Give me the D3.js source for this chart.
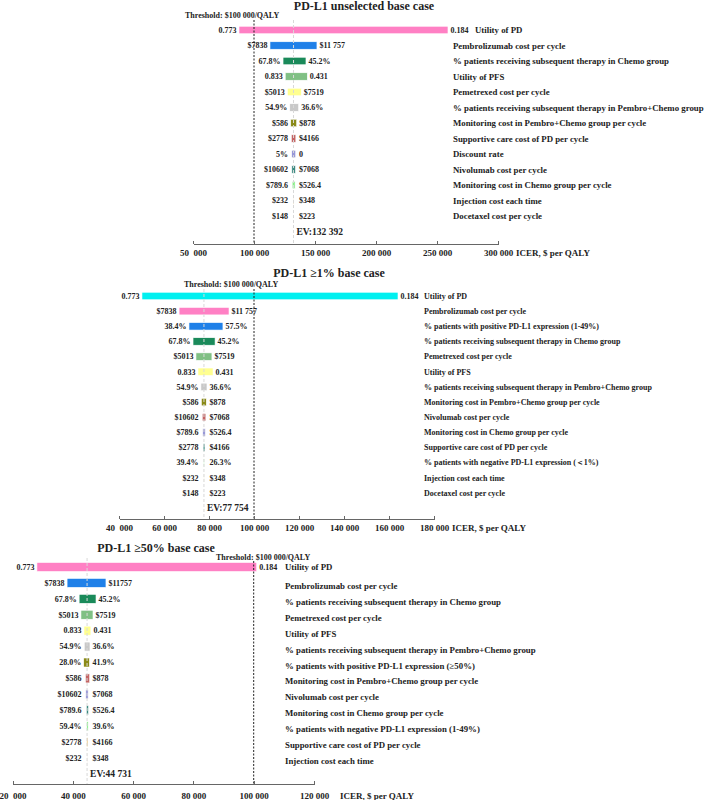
<!DOCTYPE html>
<meta charset="utf-8">
<style>
body { margin: 0; background: #fff; }
svg text { font-family: "Liberation Serif", "Times New Roman", serif; font-weight: bold; fill: #222; }
.axis path, .axis line { stroke: #666; stroke-width: 1; shape-rendering: crispEdges; }
.axis text { white-space: pre; }
</style>
<body>
<script src="https://d3js.org/d3.v7.min.js"></script>
<script>

// ---------- panel 1 : PD-L1 unselected ----------
var p1Title = "PD-L1 unselected base case";
var p1Params = ["Utility of PD", "Pembrolizumab cost per cycle",
  "% patients receiving subsequent therapy in Chemo group", "Utility of PFS",
  "Pemetrexed cost per cycle", "% patients receiving subsequent therapy in Pembro+Chemo group",
  "Monitoring cost in Pembro+Chemo group per cycle", "Supportive care cost of PD per cycle",
  "Discount rate", "Nivolumab cost per cycle", "Monitoring cost in Chemo group per cycle",
  "Injection cost each time", "Docetaxel cost per cycle"];
var p1Lo = [87700, 113100, 123800, 125600, 127300, 129300, 130100, 130600, 130900, 131000, 131300, 132100, 132200];
var p1Hi = [259000, 151600, 142600, 143700, 138800, 136600, 135000, 134300, 134200, 134000, 133700, 132700, 132600];
var p1LoText = ["0.773", "$7838", "67.8%", "0.833", "$5013", "54.9%", "$586", "$2778", "5%", "$10602", "$789.6", "$232", "$148"];
var p1HiText = ["0.184", "$11 757", "45.2%", "0.431", "$7519", "36.6%", "$878", "$4166", "0", "$7068", "$526.4", "$348", "$223"];
var p1Colors = ["#ff80c4", "#1f80e8", "#1a8a5a", "#80c084", "#ffff90", "#c8c8c8", "#8a8a18", "#c46464", "#9898d8", "#3a8a80", "#88f088", "#e8dcc0", "#eeeeee"];
var p1EV = 132392, p1EVText = "EV:132 392";
var p1Ticks = [50000, 100000, 150000, 200000, 250000, 300000];
var p1TickLabels = ["50  000", "100 000", "150 000", "200 000", "250 000", "300 000"];

// ---------- panel 2 : PD-L1 >=1% ----------
var p2Title = "PD-L1 \u22651% base case";
var p2Params = ["Utility of PD", "Pembrolizumab cost per cycle",
  "% patients with positive PD-L1 expression (1-49%)",
  "% patients receiving subsequent therapy in Chemo group", "Pemetrexed cost per cycle",
  "Utility of PFS", "% patients receiving subsequent therapy in Pembro+Chemo group",
  "Monitoring cost in Pembro+Chemo group per cycle", "Nivolumab cost per cycle",
  "Monitoring cost in Chemo group per cycle", "Supportive care cost of PD per cycle",
  "% patients with negative PD-L1 expression (\uFF1C1%)", "Injection cost each time",
  "Docetaxel cost per cycle"];
var p2Lo = [50200, 66700, 71100, 72900, 74200, 75100, 76400, 76600, 77000, 77200, 77400, 77600, 77700, 77700];
var p2Hi = [164000, 88900, 86200, 82700, 81300, 81800, 79100, 78800, 78600, 78400, 78200, 77950, 77850, 77800];
var p2LoText = ["0.773", "$7838", "38.4%", "67.8%", "$5013", "0.833", "54.9%", "$586", "$10602", "$789.6", "$2778", "39.4%", "$232", "$148"];
var p2HiText = ["0.184", "$11 757", "57.5%", "45.2%", "$7519", "0.431", "36.6%", "$878", "$7068", "$526.4", "$4166", "26.3%", "$348", "$223"];
var p2Colors = ["#00f0f0", "#ff80c4", "#1f80e8", "#1a8a5a", "#80c084", "#ffff90", "#c8c8c8", "#8a8a18", "#c46464", "#9898d8", "#3a8a80", "#b0f0b0", "#e8dcc0", "#eeeeee"];
var p2EV = 77754, p2EVText = "EV:77 754";
var p2Ticks = [40000, 60000, 80000, 100000, 120000, 140000, 160000, 180000];
var p2TickLabels = ["40  000", "60 000", "80 000", "100 000", "120 000", "140 000", "160 000", "180 000"];

// ---------- panel 3 : PD-L1 >=50% ----------
var p3Title = "PD-L1 \u226550% base case";
var p3Params = ["Utility of PD", "Pembrolizumab cost per cycle",
  "% patients receiving subsequent therapy in Chemo group", "Pemetrexed cost per cycle",
  "Utility of PFS", "% patients receiving subsequent therapy in Pembro+Chemo group",
  "% patients with positive PD-L1 expression (\u226550%)",
  "Monitoring cost in Pembro+Chemo group per cycle", "Nivolumab cost per cycle",
  "Monitoring cost in Chemo group per cycle", "% patients with negative PD-L1 expression (1-49%)",
  "Supportive care cost of PD per cycle", "Injection cost each time"];
var p3Lo = [28100, 38100, 42100, 42700, 43700, 43800, 43600, 44200, 44300, 44500, 44600, 44600, 44700];
var p3Hi = [101000, 51000, 47700, 46700, 46000, 45700, 45500, 45600, 45100, 45200, 45100, 45000, 44800];
var p3LoText = ["0.773", "$7838", "67.8%", "$5013", "0.833", "54.9%", "28.0%", "$586", "$10602", "$789.6", "59.4%", "$2778", "$232"];
var p3HiText = ["0.184", "$11757", "45.2%", "$7519", "0.431", "36.6%", "41.9%", "$878", "$7068", "$526.4", "39.6%", "$4166", "$348"];
var p3Colors = ["#ff80c4", "#1f80e8", "#1a8a5a", "#80c084", "#ffff90", "#c8c8c8", "#8a8a18", "#c46464", "#9898d8", "#3a8a80", "#88f088", "#e6b45a", "#e8dcc8"];
var p3EV = 44731, p3EVText = "EV:44 731";
var p3Ticks = [20000, 40000, 60000, 80000, 100000, 120000];
var p3TickLabels = ["20  000", "40 000", "60 000", "80 000", "100 000", "120 000"];

var threshold = 100000;

var svg = d3.select("body").append("svg")
    .attr("width", 709)
    .attr("height", 800);

// draws one tornado diagram
function drawPanel(p, lay) {
  var g = svg.append("g");
  var n = p.params.length;

  var x = d3.scaleLinear().domain(lay.domain).range(lay.xRange);
  var y = d3.scalePoint().domain(d3.range(n)).range([lay.rowTop, lay.rowBottom]);

  // title
  g.append("text")
      .attr("x", lay.titleX).attr("y", lay.titleY)
      .attr("text-anchor", "middle")
      .style("font-size", "12px")
      .text(p.title);

  g.append("text")
      .attr("x", lay.threshTextX).attr("y", lay.threshTextY)
      .style("font-size", "8px")
      .text("Threshold: $100 000/QALY");

  // bars
  g.selectAll(".bar")
      .data(d3.range(n))
    .enter().append("rect")
      .attr("class", "bar")
      .attr("x", function(i) { return x(p.lo[i]); })
      .attr("width", function(i) { return Math.max(x(p.hi[i]) - x(p.lo[i]), 0.5); })
      .attr("y", function(i) { return y(i) - lay.barH / 2; })
      .attr("height", lay.barH)
      .style("fill", function(i) { return p.colors[i]; })
      .style("stroke", "#fff")
      .style("stroke-width", 0.6);

  // EV line (light) and threshold line (black)
  g.append("line")
      .attr("x1", x(p.ev)).attr("x2", x(p.ev))
      .attr("y1", lay.evTop).attr("y2", lay.axisY)
      .style("stroke", "#d8d8d8").style("stroke-width", 1)
      .style("stroke-dasharray", "3,2");

  g.append("line")
      .attr("x1", x(threshold)).attr("x2", x(threshold))
      .attr("y1", lay.threshTop).attr("y2", lay.axisY)
      .style("stroke", "#222").style("stroke-width", 1)
      .style("stroke-dasharray", "2,1.5");

  // value labels
  var xev = x(p.ev);
  g.selectAll(".lo")
      .data(d3.range(n))
    .enter().append("text")
      .attr("x", function(i) { return Math.min(x(p.lo[i]), xev - 3) - 2.5; })
      .attr("y", function(i) { return y(i); })
      .attr("dy", "0.35em")
      .attr("text-anchor", "end")
      .style("font-size", "8px")
      .text(function(i) { return p.loText[i]; });

  g.selectAll(".hi")
      .data(d3.range(n))
    .enter().append("text")
      .attr("x", function(i) { return Math.max(x(p.hi[i]), xev + 3) + 2.5; })
      .attr("y", function(i) { return y(i); })
      .attr("dy", "0.35em")
      .style("font-size", "8px")
      .text(function(i) { return p.hiText[i]; });

  // parameter names (first one may sit further right, past its long bar)
  g.selectAll(".param")
      .data(d3.range(n))
    .enter().append("text")
      .attr("x", function(i) { return i === 0 ? lay.firstLabelX : lay.labelX; })
      .attr("y", function(i) { return y(i) + (i > 0 ? lay.labelShift : 0); })
      .attr("dy", "0.35em")
      .style("font-size", lay.labelSize + "px")
      .text(function(i) { return p.params[i]; });

  g.append("text")
      .attr("x", xev + 3).attr("y", lay.rowBottom + y.step())
      .attr("dy", "0.35em")
      .style("font-size", "9.5px")
      .text(p.evText);

  // axis
  var axis = g.append("g")
      .attr("class", "axis")
      .attr("transform", "translate(0," + lay.axisY + ")")
      .call(d3.axisBottom(x)
        .tickValues(p.ticks)
        .tickFormat(function(d, i) { return p.tickLabels[i]; })
        .tickSizeInner(-3)
        .tickSizeOuter(0)
        .tickPadding(lay.tickPad));
  axis.selectAll("text")
      .attr("xml:space", "preserve")
      .style("font-size", "9px")
      .style("font-family", "'Liberation Serif', 'Times New Roman', serif")
      .style("font-weight", "bold")
      .style("fill", "#222");

  g.append("text")
      .attr("x", lay.icerX).attr("y", lay.axisY + lay.tickPad + 6.5)
      .style("font-size", "9px")
      .text("ICER, $ per QALY");
}

drawPanel({title: p1Title, params: p1Params, lo: p1Lo, hi: p1Hi, loText: p1LoText, hiText: p1HiText,
           colors: p1Colors, ev: p1EV, evText: p1EVText, ticks: p1Ticks, tickLabels: p1TickLabels},
  {domain: [50000, 300000], xRange: [193, 498], rowTop: 30, rowBottom: 216, barH: 7.5,
   axisY: 244, tickPad: 5.5, titleX: 364, titleY: 10, threshTextX: 185, threshTextY: 18,
   threshTop: 20, evTop: 20, labelX: 453, firstLabelX: 475, labelSize: 8.8, labelShift: 0, icerX: 516});

drawPanel({title: p2Title, params: p2Params, lo: p2Lo, hi: p2Hi, loText: p2LoText, hiText: p2HiText,
           colors: p2Colors, ev: p2EV, evText: p2EVText, ticks: p2Ticks, tickLabels: p2TickLabels},
  {domain: [40000, 180000], xRange: [119, 434], rowTop: 296, rowBottom: 493, barH: 7.5,
   axisY: 519, tickPad: 5.5, titleX: 329, titleY: 277, threshTextX: 184, threshTextY: 287,
   threshTop: 289, evTop: 289, labelX: 424, firstLabelX: 424, labelSize: 8, labelShift: 0, icerX: 452});

drawPanel({title: p3Title, params: p3Params, lo: p3Lo, hi: p3Hi, loText: p3LoText, hiText: p3HiText,
           colors: p3Colors, ev: p3EV, evText: p3EVText, ticks: p3Ticks, tickLabels: p3TickLabels},
  {domain: [20000, 120000], xRange: [12.5, 314], rowTop: 567, rowBottom: 758, barH: 9,
   axisY: 784, tickPad: 8.5, titleX: 156, titleY: 552, threshTextX: 216, threshTextY: 560,
   threshTop: 561, evTop: 558, labelX: 285, firstLabelX: 285, labelSize: 8.8, labelShift: 3, icerX: 340});

</script>
</body>
